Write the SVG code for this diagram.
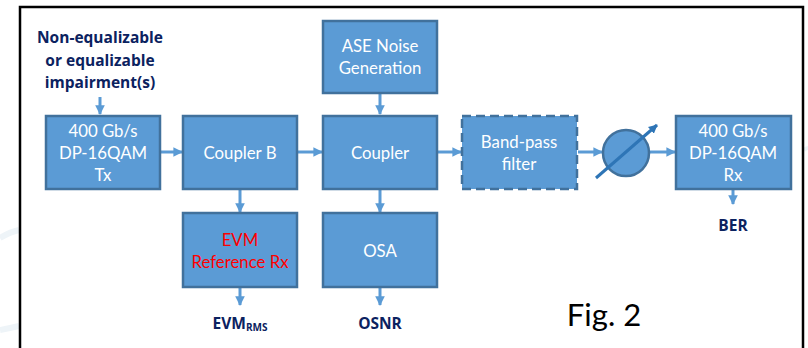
<svg xmlns="http://www.w3.org/2000/svg" width="808" height="348" viewBox="0 0 808 348">
<defs>
<marker id="ah" viewBox="0 0 10 10" refX="9" refY="5" markerWidth="3.2" markerHeight="3.2" orient="auto" markerUnits="strokeWidth"><path d="M0,0 L10,5 L0,10 z" fill="#5b9bd5"/></marker>
<marker id="ah2" viewBox="0 0 10 10" refX="9" refY="5" markerWidth="3" markerHeight="3" orient="auto" markerUnits="strokeWidth"><path d="M0,0 L10,5 L0,10 z" fill="#2e75b6"/></marker>
</defs>
<style>
.box{fill:#5b9bd5;stroke:#41719c;stroke-width:2.5}
.dash{stroke-dasharray:9 5;stroke:#41719c}
.t{font-family:Lato,"Open Sans","Noto Sans",sans-serif;font-size:16.8px;fill:#fff;text-anchor:middle}
.red{fill:#ff0000}
.lbl{font-family:"Open Sans","Noto Sans",sans-serif;font-size:15.5px;font-weight:bold;fill:#0b2260;text-anchor:middle}
.c{stroke:#5b9bd5;stroke-width:3;fill:none;marker-end:url(#ah)}
</style>
<rect width="808" height="348" fill="#fff"/>
<path d="M0,238 Q10,232 19,230" stroke="#eef4f8" stroke-width="6" fill="none"/>
<path d="M0,330 Q10,328 19,326" stroke="#eef4f8" stroke-width="6" fill="none"/>
<path d="M804,150 Q806,148 808,148" stroke="#eef4f8" stroke-width="4" fill="none"/>
<rect x="20" y="7" width="783" height="350" fill="none" stroke="#000" stroke-width="2.5"/>

<g id="connectors">
<line class="c" x1="100" y1="97" x2="100" y2="114"/>
<line class="c" x1="161" y1="152" x2="182" y2="152"/>
<line class="c" x1="298" y1="152" x2="322" y2="152"/>
<line class="c" x1="438" y1="152" x2="461" y2="152"/>
<line class="c" x1="578" y1="152" x2="602" y2="152"/>
<line class="c" x1="650" y1="152" x2="675" y2="152"/>
<line class="c" x1="380" y1="94" x2="380" y2="114"/>
<line class="c" x1="240" y1="190" x2="240" y2="212"/>
<line class="c" x1="380" y1="190" x2="380" y2="212"/>
<line class="c" x1="240" y1="288" x2="240" y2="305"/>
<line class="c" x1="380" y1="288" x2="380" y2="305"/>
<line class="c" x1="733" y1="190" x2="733" y2="204"/>
</g>

<g id="impairment">
<text class="lbl" x="100" y="43">Non-equalizable</text>
<text class="lbl" x="100" y="66">or equalizable</text>
<text class="lbl" x="100" y="88">impairment(s)</text>
</g>

<g id="tx">
<rect class="box" x="46" y="116" width="114" height="73"/>
<text class="t" x="103" y="137">400 Gb/s</text>
<text class="t" x="103" y="159">DP-16QAM</text>
<text class="t" x="103" y="181">Tx</text>
</g>

<g id="couplerB">
<rect class="box" x="183" y="116" width="114" height="73"/>
<text class="t" x="240" y="159">Coupler B</text>
</g>

<g id="ase">
<rect class="box" x="323" y="21" width="114" height="72"/>
<text class="t" x="380" y="52">ASE Noise</text>
<text class="t" x="380" y="74">Generation</text>
</g>

<g id="coupler">
<rect class="box" x="323" y="116" width="114" height="73"/>
<text class="t" x="380" y="159">Coupler</text>
</g>

<g id="bpf">
<rect class="box dash" x="462" y="116" width="115" height="73"/>
<text class="t" x="519" y="148">Band-pass</text>
<text class="t" x="519" y="170">filter</text>
</g>

<g id="attenuator">
<circle cx="626" cy="153" r="23" fill="#5b9bd5" stroke="#41719c" stroke-width="2.5"/>
<line x1="596" y1="178" x2="657" y2="125" stroke="#2e75b6" stroke-width="3" marker-end="url(#ah2)"/>
</g>

<g id="rx">
<rect class="box" x="676" y="116" width="115" height="73"/>
<text class="t" x="733" y="137">400 Gb/s</text>
<text class="t" x="733" y="159">DP-16QAM</text>
<text class="t" x="733" y="181">Rx</text>
</g>

<g id="evmrx">
<rect class="box" x="183" y="213" width="114" height="74"/>
<text class="t red" x="240" y="246">EVM</text>
<text class="t red" x="240" y="268">Reference Rx</text>
</g>

<g id="osa">
<rect class="box" x="323" y="213" width="114" height="74"/>
<text class="t" x="380" y="257">OSA</text>
</g>

<g id="outputs">
<text class="lbl" x="240" y="329">EVM<tspan font-size="10" dy="2">RMS</tspan></text>
<text class="lbl" x="380" y="329">OSNR</text>
<text class="lbl" x="733" y="231">BER</text>
<text x="604" y="326" font-family="Lato,'Open Sans',sans-serif" font-size="31" fill="#000" text-anchor="middle">Fig. 2</text>
</g>
</svg>
